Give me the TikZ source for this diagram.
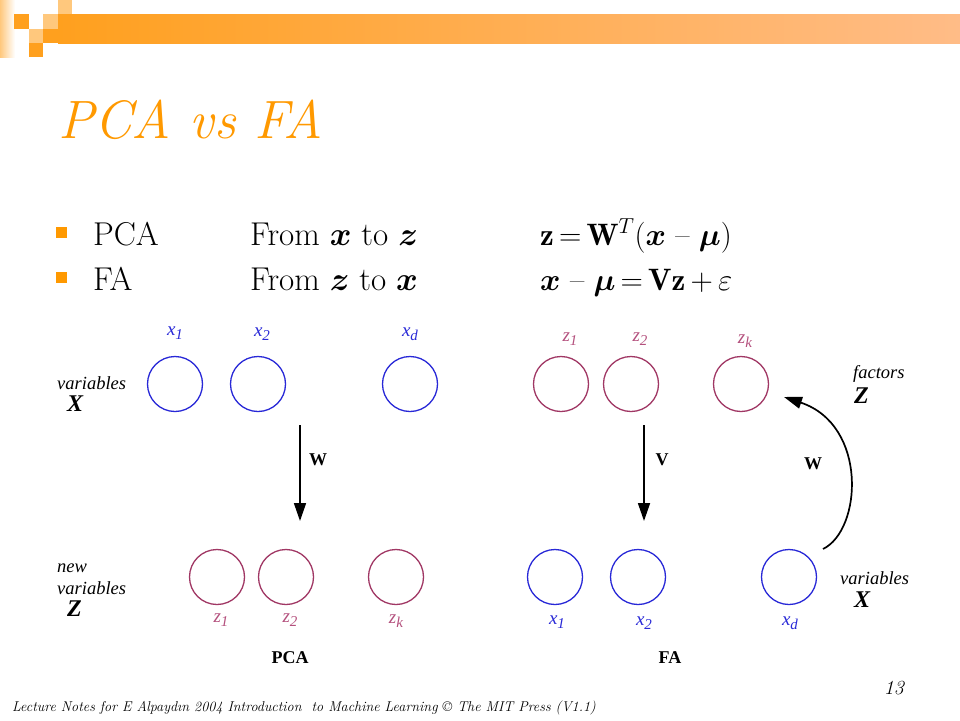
\RequirePackage{fix-cm}
\documentclass[tikz,border=0pt]{standalone}
\usepackage{fontspec}
\usepackage{bm}
\usetikzlibrary{arrows.meta,positioning}
\newfontfamily\figfont{Liberation Serif}
\definecolor{slideorange}{RGB}{255,153,0}
\definecolor{barorange}{RGB}{255,160,30}
\definecolor{paleorange}{RGB}{255,200,125}
\definecolor{barend}{RGB}{255,188,135}
\definecolor{varblue}{RGB}{40,40,215}
\definecolor{facred}{RGB}{160,55,100}
\definecolor{tagred}{RGB}{180,80,125}
\newcommand{\sz}[1]{\fontsize{#1}{#1}\selectfont}
\newcommand{\vsub}[2]{#1\raisebox{-4pt}{\sz{15}#2}}
\tikzset{
  xvar/.style={circle,draw=varblue,line width=1.3pt,minimum size=55pt,inner sep=0pt},
  zvar/.style={xvar,draw=facred},
  xtag/.style={inner sep=0pt,anchor=base,text=varblue,font=\figfont\itshape\sz{19}},
  ztag/.style={xtag,text=tagred},
  side/.style={inner sep=0pt,anchor=base west,text depth=0pt,font=\figfont\itshape\sz{18.5}},
  big/.style={inner sep=0pt,anchor=base west,font=\figfont\bfseries\itshape\sz{24}},
  mat/.style={inner sep=0pt,font=\figfont\bfseries\sz{18}},
  maparrow/.style={line width=1.7pt,-{Triangle[width=12pt,length=18pt]}},
  line/.style={inner sep=0pt,anchor=base west,font=\sz{33}},
  eqline/.style={line,font=\sz{31},execute at begin node={\thickmuskip=3mu\medmuskip=3mu}}
}
\begin{document}
\begin{tikzpicture}[x=1pt,y=-1pt]
\useasboundingbox (0,0) rectangle (960,720);
\fill[white] (0,0) rectangle (960,720);
% banner
\shade[left color=paleorange,right color=white] (0,0) rectangle (15,57);
\shade[left color=barorange,right color=barend] (58,14) rectangle (960,43);
\fill[paleorange] (58,0) rectangle (72,14);
\fill[barorange] (14,14) rectangle (29,29);
\fill[paleorange] (43,14) rectangle (58,29);
\fill[paleorange] (29,29) rectangle (43,43);
\fill[barorange] (43,29) rectangle (58,43);
\fill[barorange] (29,43) rectangle (43,57);

% title and bullets
\node[inner sep=0pt,anchor=base west,text=slideorange,font=\itshape\sz{54}] (title) at (58,138) {PCA vs FA};
\fill[slideorange] (56,227) rectangle (67,238);
\fill[slideorange] (56,272) rectangle (67,283);
\node[line] (pca) at (93,245) {PCA};
\node[line] (pcadir) at (250,245) {From $\bm{x}$ to $\bm{z}$};
\node[eqline] (pcaeq) at (540,245) {$\mathbf{z} = \mathbf{W}^{T}(\bm{x}$ -- $\bm{\mu})$};
\node[line] (fa) at (93,290) {FA};
\node[line] (fadir) at (250,290) {From $\bm{z}$ to $\bm{x}$};
\node[eqline] (faeq) at (540,290) {$\bm{x}$ -- $\bm{\mu} = \mathbf{V}\mathbf{z} + \varepsilon$};

% PCA
\node[xvar] (px1) at (175,384) {};
\node[xvar] (px2) at (258,384) {};
\node[xvar] (pxd) at (410,384) {};
\node[xtag] (px1t) at (175,335) {\vsub{x}{1}};
\node[xtag] (px2t) at (262,336) {\vsub{x}{2}};
\node[xtag] (pxdt) at (410,336) {\vsub{x}{d}};
\node[zvar] (pz1) at (217,577) {};
\node[zvar] (pz2) at (286,577) {};
\node[zvar] (pzk) at (396,577) {};
\node[ztag] (pz1t) at (221,622) {\vsub{z}{1}};
\node[ztag] (pz2t) at (290,622) {\vsub{z}{2}};
\node[ztag] (pzkt) at (396,623) {\vsub{z}{k}};
\node[side] (pvar) at (57,389) {variables};
\node[big] (pX) at (67,411) {X};
\node[side] (pnew) at (57,572) {new};
\node[side] (pvar2) at (57,594) {variables};
\node[big] (pZ) at (67,616) {Z};
\coordinate (pw1) at (300,425);
\coordinate (pw2) at (300,521);
\draw[maparrow] (pw1) -- (pw2);
\node[mat] (pW) at (318,460) {W};
\node[mat,anchor=base] (pcaname) at (290,663) {PCA};

% FA
\node[zvar] (fz1) at (561,384) {};
\node[zvar] (fz2) at (631,384) {};
\node[zvar] (fzk) at (741,384) {};
\node[ztag] (fz1t) at (570,341) {\vsub{z}{1}};
\node[ztag] (fz2t) at (640,341) {\vsub{z}{2}};
\node[ztag] (fzkt) at (745,343) {\vsub{z}{k}};
\node[xvar] (fx1) at (555,577) {};
\node[xvar] (fx2) at (638,577) {};
\node[xvar] (fxd) at (789,577) {};
\node[xtag] (fx1t) at (557,624) {\vsub{x}{1}};
\node[xtag] (fx2t) at (644,625) {\vsub{x}{2}};
\node[xtag] (fxdt) at (790,625) {\vsub{x}{d}};
\node[side] (ffac) at (853,378) {factors};
\node[big] (fZ) at (854,403) {Z};
\node[side] (fvar) at (840,584) {variables};
\node[big] (fX) at (854,607) {X};
\coordinate (fv1) at (644,425);
\coordinate (fv2) at (644,521);
\draw[maparrow] (fv1) -- (fv2);
\node[mat] (fV) at (662,460) {V};
\coordinate (fw1) at (823,549);
\coordinate (fw2) at (784,397);
\draw[maparrow] (fw1) .. controls (862,530) and (868,425) .. (fw2);
\node[mat] (fW) at (813,464) {W};
\node[mat,anchor=base] (faname) at (670,663) {FA};

% footer
\node[inner sep=0pt,anchor=base east,font=\itshape\sz{20}] (page) at (904,694) {13};
\node[inner sep=0pt,anchor=base west,font=\itshape\sz{14.2}] (notes) at (12,711) {Lecture Notes for E Alpayd\i n 2004 Introduction\ \ to Machine Learning \textcopyright{} The MIT Press (V1.1)};
\end{tikzpicture}
\end{document}
